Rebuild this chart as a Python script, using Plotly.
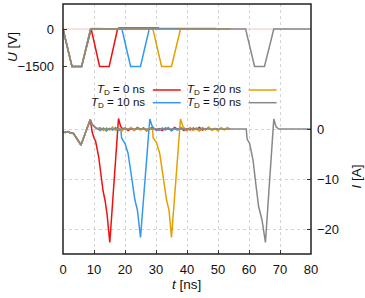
import plotly.graph_objects as go

# ---------------- data ----------------
series_names = ["0", "10", "20", "50"]
colors = ["#f01010", "#3399ee", "#e69f00", "#888888"]

# Voltage traces (left axis, V)
u_t_red = [0, 2.9, 6.0, 8.9, 9.1, 11.8, 14.9, 17.6, 18.0, 31.0]
u_red = [0, -1500, -1500, 0, 0, -1500, -1500, 0, 40, 40]
u_t_blue = [0, 2.9, 6.0, 8.9, 9.4, 18.8, 19.0, 21.8, 25.0, 27.8, 28.2, 49.5]
u_blue = [0, -1500, -1500, 0, 20, 20, 0, -1500, -1500, 0, 20, 20]
u_t_orange = [0, 2.9, 6.0, 8.9, 29.0, 31.8, 35.0, 37.9, 54.0]
u_orange = [0, -1500, -1500, 0, 0, -1500, -1500, 0, 0]
u_t_gray = [0, 2.9, 6.0, 8.9, 58.9, 61.8, 65.0, 68.0, 80.0]
u_gray = [0, -1500, -1500, 0, 0, -1500, -1500, 0, 0]

# Current traces (right axis, A)
i_t_start = [0, 0.8, 1.6, 2.4, 3.4, 5.8, 8.8]
i_start = [-0.6, -0.7, -0.5, -0.8, -0.9, -3.2, 1.9]

i_t_red = [9.4, 10.0, 10.5, 11.5, 12.3, 12.9, 13.6, 14.2, 15.1, 17.9, 18.6, 19.3,
           20, 21, 22, 23, 24, 25, 26, 27, 28, 29, 30, 31, 32, 33, 34, 35, 36, 37,
           38, 39, 40, 41, 42, 43, 44, 45, 46]
i_red = [-0.6, -1.8, -2.4, -5.5, -9.5, -12.3, -14.4, -17.0, -22.7, 2.1, 0.5, 0.0,
         0.2, -0.3, 0.1, -0.2, 0.3, -0.1, 0.2, -0.4, 0.1, 0.3, -0.2, 0.1, -0.3, 0.2,
         0.0, -0.2, 0.3, -0.1, 0.2, -0.3, 0.1, -0.2, 0.2, -0.1, 0.3, -0.2, 0.1]

i_t_blue = [9.4, 10.2, 11.0, 12, 13, 14, 15, 16, 17, 18, 18.7, 18.9, 20.0, 21.0, 22.1,
            23.2, 24.0, 25.0, 28.0, 28.8, 29.5, 31, 32, 33, 34, 35, 36, 37, 38, 39, 40,
            41, 42, 43, 44, 45, 46, 47, 48, 49, 50]
i_blue = [0.9, 0.4, 0.1, -0.3, 0.2, -0.4, 0.1, -0.2, 0.3, -0.3, -0.2, -1.8, -2.9,
          -4.9, -9.5, -14.2, -16.2, -21.7, 2.0, 0.5, 0.0, -0.3, 0.2, -0.2, 0.3, -0.4,
          0.1, -0.2, 0.3, -0.1, -0.3, 0.2, -0.2, 0.1, -0.4, 0.2, -0.1, 0.3, -0.2, 0.1, 0.0]

i_t_orange = [9.4, 10.2, 11.0, 12, 13, 14, 15, 16, 17, 18, 19, 20, 21, 22, 23, 24, 25,
              26, 27, 28, 28.9, 29.1, 30.1, 31.2, 32.3, 33.4, 34.2, 35.0, 37.9, 38.7,
              39.4, 40, 41, 42, 43, 44, 45, 46, 47, 48, 49, 50, 51, 52, 53, 54]
i_orange = [0.9, 0.4, 0.1, 0.3, -0.3, 0.2, -0.2, 0.4, -0.3, 0.1, -0.4, 0.2, -0.1, 0.3,
            -0.3, 0.2, -0.2, 0.1, -0.3, 0.2, -0.1, -1.8, -2.6, -4.9, -9.5, -14.2,
            -16.2, -21.7, 2.0, 0.5, 0.0, -0.4, 0.3, -0.3, 0.2, -0.4, 0.3, -0.2, 0.4,
            -0.3, 0.1, -0.4, 0.3, -0.2, 0.3, -0.1]

i_t_gray = [9.4, 10.2, 11.0, 59.1, 59.4, 60.2, 61.3, 62.3, 63.1, 64.2, 65.3, 68.0, 68.7,
            69.5, 72.0, 72.3, 75.0, 75.3, 80.0]
i_gray = [0.9, 0.4, 0.0, 0.0, -2.0, -2.9, -6.2, -11.5, -15.5, -18.2, -22.7, 2.0, 0.5,
          0.0, 0.0, 0.0, 0.0, 0.0, 0.0]

u_series = [(u_t_red, u_red), (u_t_blue, u_blue), (u_t_orange, u_orange), (u_t_gray, u_gray)]
i_series = [(i_t_red, i_red), (i_t_blue, i_blue), (i_t_orange, i_orange), (i_t_gray, i_gray)]

x_ticks = [0, 10, 20, 30, 40, 50, 60, 70, 80]
u_ticks = [0, -1500]
i_ticks = [0, -10, -20]

# ---------------- figure ----------------
W, H = 365, 298
L, R, T, B = 63, 53.5, 4, 44
pw, ph = W - L - R, H - T - B

fig = go.Figure()

for (tt, uu), c in zip(u_series, colors):
    fig.add_trace(go.Scatter(x=tt, y=uu, mode="lines", line=dict(color=c, width=1.5),
                             yaxis="y", showlegend=False, hoverinfo="skip"))
for (tt, ii), c in zip(i_series, colors):
    fig.add_trace(go.Scatter(x=i_t_start + tt, y=i_start + ii, mode="lines",
                             line=dict(color=c, width=1.5), yaxis="y2",
                             showlegend=False, hoverinfo="skip"))

font = "Liberation Sans, Arial, sans-serif"
grid = "#d4d4d4"

fig.update_layout(
    width=W, height=H,
    margin=dict(l=L, r=R, t=T, b=B, pad=0),
    paper_bgcolor="white", plot_bgcolor="white",
    font=dict(family=font, size=13, color="#111"),
    xaxis=dict(range=[0, 80], tickvals=x_ticks, showgrid=True, gridcolor=grid,
               griddash="dot", gridwidth=1, zeroline=False, showline=False,
               ticks="inside", ticklen=4, tickcolor="#333", ticklabelstandoff=6,
               tickfont=dict(size=13)),
    yaxis=dict(range=[-9000, 1000], tickvals=u_ticks, showgrid=False, zeroline=False,
               showline=False, ticks="inside", ticklen=4, tickcolor="#333",
               ticklabelstandoff=8, tickfont=dict(size=13)),
    yaxis2=dict(range=[-25, 25], tickvals=i_ticks, overlaying="y", side="right",
                showgrid=True, gridcolor=grid, griddash="dot", gridwidth=1,
                zeroline=False, showline=False, ticks="inside", ticklen=4,
                tickcolor="#333", ticklabelstandoff=5, tickfont=dict(size=13)),
)

# faint zero line of the voltage axis
fig.add_shape(type="line", xref="paper", yref="y", x0=0, x1=1, y0=0, y1=0,
              line=dict(color="#f5c4c4", width=1), layer="below")
# frame
fig.add_shape(type="rect", xref="paper", yref="paper", x0=0, x1=1, y0=0, y1=1,
              line=dict(color="#222", width=1.5), layer="above")

def px_x(p):
    return (p - L) / pw

def px_y(p):
    return (H - B - p) / ph

# axis titles
fig.add_annotation(text="<i>U</i> [V]", xref="paper", yref="paper", x=px_x(12), y=px_y(47),
                   xanchor="center", yanchor="middle",
                   showarrow=False, textangle=-90, font=dict(size=13.5))
fig.add_annotation(text="<i>I</i> [A]", xref="paper", yref="paper", x=px_x(357), y=px_y(176),
                   xanchor="center", yanchor="middle",
                   showarrow=False, textangle=-90, font=dict(size=13.5))
fig.add_annotation(text="<i>t</i> [ns]", xref="paper", yref="paper", x=px_x(187), y=px_y(284),
                   xanchor="center", yanchor="middle",
                   showarrow=False, font=dict(size=13.5))

# legend (gnuplot style: text then sample line)
rows = [90, 102.7]
cols = [(147, 153, 181), (243, 249, 277)]
for k, (name, c) in enumerate(zip(series_names, colors)):
    col, row = k // 2, k % 2
    tx, s0, s1 = cols[col]
    yy = px_y(rows[row])
    fig.add_annotation(text=f"<i>T</i><sub>D</sub> = {name} ns", xref="paper", yref="paper",
                       x=px_x(tx), y=yy, xanchor="right", yanchor="middle",
                       showarrow=False, font=dict(size=11.5))
    fig.add_shape(type="line", xref="paper", yref="paper", x0=px_x(s0), x1=px_x(s1),
                  y0=yy, y1=yy, line=dict(color=c, width=1.5))

fig.write_html("out.html", config={"displayModeBar": False},
               post_script="document.body.style.margin='0';")
